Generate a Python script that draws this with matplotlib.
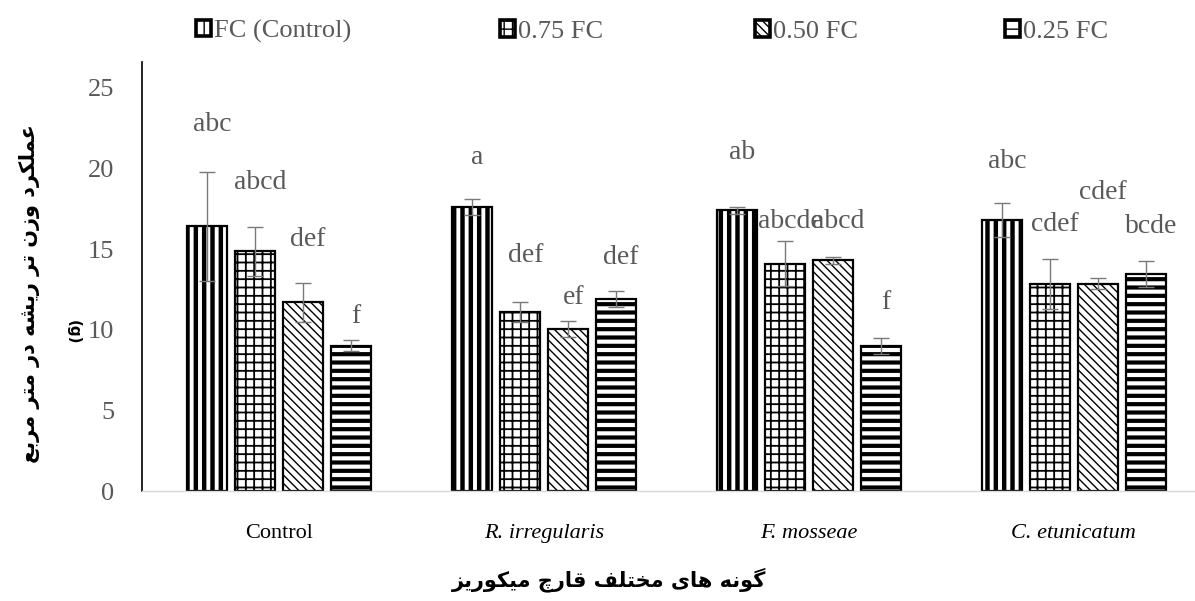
import numpy as np
import matplotlib.pyplot as plt

# Datos del gráfico
grupos = ["Control", "R. irregularis", "F. mosseae", "C. etunicatum"]
series = ["FC (Control)", "0.75 FC", "0.50 FC", "0.25 FC"]
medias = [
    [16.4, 17.6, 17.4, 16.8],   # FC (Control)
    [14.85, 11.1, 14.1, 12.85],  # 0.75 FC
    [11.7, 10.05, 14.3, 12.85],  # 0.50 FC
    [9.0, 11.9, 9.0, 13.45],     # 0.25 FC
]
errores = [
    [3.4, 0.5, 0.2, 1.05],
    [1.5, 0.6, 1.4, 1.55],
    [1.2, 0.5, 0.2, 0.35],
    [0.35, 0.5, 0.5, 0.8],
]
letras = [
    ["abc", "a", "ab", "abc"],
    ["abcd", "def", "abcde", "cdef"],
    ["def", "ef", "abcd", "cdef"],
    ["f", "def", "f", "bcde"],
]
pos_letras = [
    [22.7, 20.7, 21.0, 20.4],
    [19.1, 14.6, 16.7, 16.5],
    [15.6, 12.0, 16.7, 18.5],
    [10.8, 14.5, 11.7, 16.4],
]
titulo_x = "گونه های مختلف قارچ میکوریز"
titulo_y = "عملکرد وزن تر ریشه در متر مربع"

# Formas de presentación para escribir persa sin motor de texto
FORMAS = {
    'ا': ('\uFE8D', '\uFE8E', None, None),
    'د': ('\uFEA9', '\uFEAA', None, None),
    'ر': ('\uFEAD', '\uFEAE', None, None),
    'ز': ('\uFEAF', '\uFEB0', None, None),
    'و': ('\uFEED', '\uFEEE', None, None),
    'ب': ('\uFE8F', '\uFE90', '\uFE91', '\uFE92'),
    'ت': ('\uFE95', '\uFE96', '\uFE97', '\uFE98'),
    'خ': ('\uFEA5', '\uFEA6', '\uFEA7', '\uFEA8'),
    'ش': ('\uFEB5', '\uFEB6', '\uFEB7', '\uFEB8'),
    'ع': ('\uFEC9', '\uFECA', '\uFECB', '\uFECC'),
    'ف': ('\uFED1', '\uFED2', '\uFED3', '\uFED4'),
    'ق': ('\uFED5', '\uFED6', '\uFED7', '\uFED8'),
    'ل': ('\uFEDD', '\uFEDE', '\uFEDF', '\uFEE0'),
    'م': ('\uFEE1', '\uFEE2', '\uFEE3', '\uFEE4'),
    'ن': ('\uFEE5', '\uFEE6', '\uFEE7', '\uFEE8'),
    'ه': ('\uFEE9', '\uFEEA', '\uFEEB', '\uFEEC'),
    'ی': ('\uFBFC', '\uFBFD', '\uFBFE', '\uFBFF'),
    'ک': ('\uFB8E', '\uFB8F', '\uFB90', '\uFB91'),
    'گ': ('\uFB92', '\uFB93', '\uFB94', '\uFB95'),
    'چ': ('\uFB7A', '\uFB7B', '\uFB7C', '\uFB7D'),
}


def persa(texto):
    out = []
    for i, c in enumerate(texto):
        if c not in FORMAS:
            out.append(c)
            continue
        f = FORMAS[c]
        prev = texto[i - 1] if i > 0 else ''
        nxt = texto[i + 1] if i + 1 < len(texto) else ''
        jp = prev in FORMAS and FORMAS[prev][2] is not None
        jn = f[2] is not None and nxt in FORMAS
        if jp and jn:
            out.append(f[3])
        elif jp:
            out.append(f[1])
        elif jn:
            out.append(f[2])
        else:
            out.append(f[0])
    return ''.join(out)[::-1]


plt.rcParams['font.family'] = ['Liberation Serif', 'DejaVu Serif']

fig = plt.figure(figsize=(11.95, 6.01), dpi=100)
ax = fig.add_axes([0.1188, 0.183, 0.8812, 0.714])

x = np.arange(len(grupos))
ancho = 0.151
paso = 0.181
tramas = ['||', '++', '\\\\\\\\', '--']
grosor_trama = [3.2, 1.3, 1.0, 3.0]

barras = []
for i in range(len(series)):
    xs = x + (i - 1.5) * paso
    b = ax.bar(xs, medias[i], ancho, color='white', edgecolor='black',
               linewidth=1.6, hatch=tramas[i], label=series[i], zorder=2)
    for p in b.patches:
        if hasattr(p, 'set_hatch_linewidth'):
            p.set_hatch_linewidth(grosor_trama[i])
    ax.errorbar(xs, medias[i], yerr=errores[i], fmt='none', ecolor='#7a7a7a',
                elinewidth=1.0, capsize=5.5, capthick=1.0, zorder=3)
    for j in range(len(grupos)):
        ax.text(xs[j] + 0.02, pos_letras[i][j], letras[i][j], ha='center',
                va='center', fontsize=20, color='#595959')
    barras.append(b)

ax.set_xlim(-0.517, 3.457)
ax.set_ylim(0, 26.6)
ax.set_yticks([0, 5, 10, 15, 20, 25])
ax.tick_params(axis='y', length=0, pad=20, labelsize=19, labelcolor='#595959')
ax.set_xticks(x)
ax.set_xticklabels(grupos)
ax.tick_params(axis='x', length=0, pad=24)
for k, t in enumerate(ax.get_xticklabels()):
    t.set_fontsize(16)
    t.set_color('black')
    if k > 0:
        t.set_style('italic')

for s in ['top', 'right']:
    ax.spines[s].set_visible(False)
ax.spines['left'].set_color('black')
ax.spines['left'].set_linewidth(1.2)
ax.spines['bottom'].set_color('#d9d9d9')
ax.spines['bottom'].set_linewidth(1.0)

# Leyenda: cada elemento en su sitio
x_leyenda = [196, 500, 755, 1005]
for i, b in enumerate(barras):
    leg = fig.legend(handles=[b], loc='center left',
                     bbox_to_anchor=(x_leyenda[i] / 1195, 0.948),
                     frameon=False, fontsize=19, handlelength=0.55,
                     handleheight=0.6, handletextpad=0.15, borderpad=0,
                     borderaxespad=0)
    for h in leg.legend_handles:
        h.set_linewidth(2.6)
    for t in leg.get_texts():
        t.set_color('#595959')

fig.text(0.51, 0.035, persa(titulo_x), ha='center', va='center',
         fontsize=15, fontweight='bold', family='DejaVu Sans')
fig.text(0.025, 0.512, persa(titulo_y), ha='center', va='center',
         rotation=90, fontsize=15, fontweight='bold', family='DejaVu Sans')
fig.text(0.061, 0.448, "(g)", ha='center', va='center', rotation=270,
         fontsize=11, fontweight='bold', family='DejaVu Sans')

fig.savefig('out.png', dpi=100, facecolor='white')
